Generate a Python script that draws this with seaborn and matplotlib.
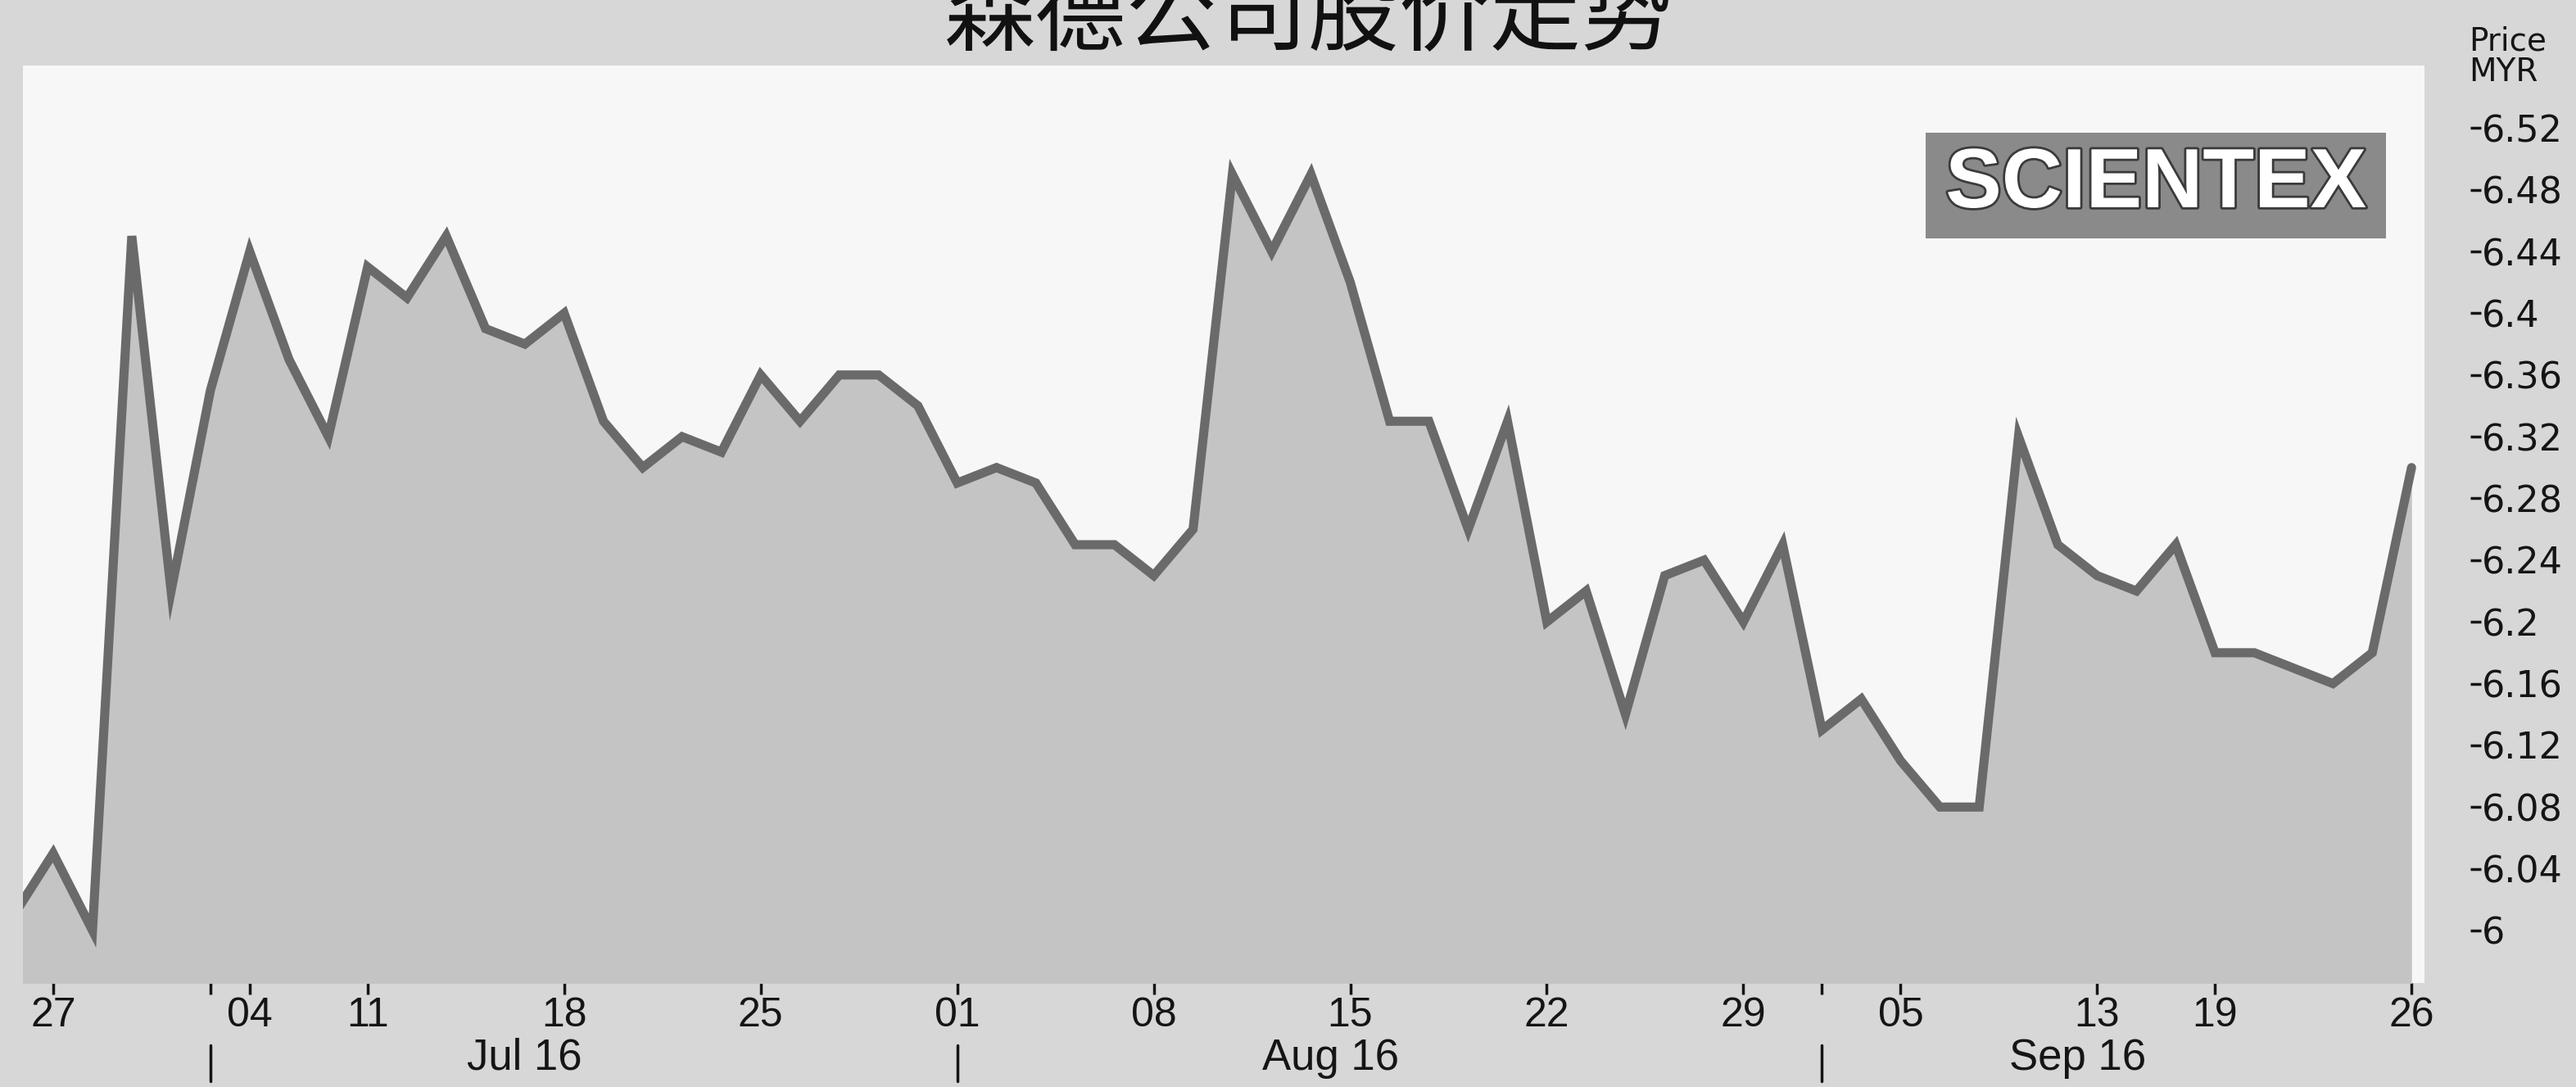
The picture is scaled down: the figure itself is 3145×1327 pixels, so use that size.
import numpy as np
import pandas as pd
import matplotlib
matplotlib.use("Agg")
import matplotlib.pyplot as plt
import matplotlib.patheffects as pe
from matplotlib.patches import Rectangle
from matplotlib.transforms import blended_transform_factory
import seaborn as sns

# trading days only (Raya / National Day / Malaysia Day holidays skipped)
dates = ["2016-06-24",
         "2016-06-27", "2016-06-28", "2016-06-29", "2016-06-30", "2016-07-01",
         "2016-07-04", "2016-07-05", "2016-07-08",
         "2016-07-11", "2016-07-12", "2016-07-13", "2016-07-14", "2016-07-15",
         "2016-07-18", "2016-07-19", "2016-07-20", "2016-07-21", "2016-07-22",
         "2016-07-25", "2016-07-26", "2016-07-27", "2016-07-28", "2016-07-29",
         "2016-08-01", "2016-08-02", "2016-08-03", "2016-08-04", "2016-08-05",
         "2016-08-08", "2016-08-09", "2016-08-10", "2016-08-11", "2016-08-12",
         "2016-08-15", "2016-08-16", "2016-08-17", "2016-08-18", "2016-08-19",
         "2016-08-22", "2016-08-23", "2016-08-24", "2016-08-25", "2016-08-26",
         "2016-08-29", "2016-08-30", "2016-09-01", "2016-09-02",
         "2016-09-05", "2016-09-06", "2016-09-07", "2016-09-08", "2016-09-09",
         "2016-09-13", "2016-09-14", "2016-09-15",
         "2016-09-19", "2016-09-20", "2016-09-21", "2016-09-22", "2016-09-23",
         "2016-09-26"]
prices = [6.01,
          6.05, 6.00, 6.45, 6.22, 6.35,
          6.44, 6.37, 6.32,
          6.43, 6.41, 6.45, 6.39, 6.38,
          6.40, 6.33, 6.30, 6.32, 6.31,
          6.36, 6.33, 6.36, 6.36, 6.34,
          6.29, 6.30, 6.29, 6.25, 6.25,
          6.23, 6.26, 6.49, 6.44, 6.49,
          6.42, 6.33, 6.33, 6.26, 6.33,
          6.20, 6.22, 6.14, 6.23, 6.24,
          6.20, 6.25, 6.13, 6.15,
          6.11, 6.08, 6.08, 6.32, 6.25,
          6.23, 6.22, 6.25,
          6.18, 6.18, 6.17, 6.16, 6.18,
          6.30]
y_ticks = [6.0, 6.04, 6.08, 6.12, 6.16, 6.2, 6.24, 6.28, 6.32, 6.36, 6.4, 6.44, 6.48, 6.52]
y_tick_labels = ["6", "6.04", "6.08", "6.12", "6.16", "6.2", "6.24", "6.28",
                 "6.32", "6.36", "6.4", "6.44", "6.48", "6.52"]
month_labels = ["Jul 16", "Aug 16", "Sep 16"]
title = "森德公司股价走势"
logo = "SCIENTEX"
unit_labels = ["Price", "MYR"]

paper = "#d7d7d7"
plot_bg = "#f7f7f7"
fill_col = "#c4c4c4"
line_col = "#6a6a6a"
ink = "#151515"

df = pd.DataFrame({"date": pd.to_datetime(dates), "price": prices})
df["pos"] = np.arange(len(df))

# first trading day of each week / month
week = df["date"].dt.isocalendar().week
new_week = (week != week.shift()) & (df.index > 0)
month = df["date"].dt.month
new_month = (month != month.shift()) & (df.index > 0)

sns.set_theme(style="white")
plt.rcParams['font.family'] = ['Liberation Sans', 'DejaVu Sans']

fig = plt.figure(figsize=(31.45, 13.27), dpi=100, facecolor=paper)
ax = fig.add_axes([0.0089, 0.0957, 0.9323, 0.844])
ax.set_facecolor(plot_bg)

ax.fill_between(df["pos"], df["price"], 5.9, color=fill_col, lw=0)
sns.lineplot(data=df, x="pos", y="price", ax=ax, color=line_col, lw=8,
             solid_joinstyle="miter")

ax.set_xlim(0.23, 61.33)
ax.set_ylim(5.966, 6.5605)
ax.set_xlabel("")
ax.set_ylabel("")
for sp in ax.spines.values():
    sp.set_visible(False)

# price scale on the right, ticks set off from the plot
ax.yaxis.tick_right()
ax.spines['right'].set_position(('outward', 40))
ax.set_yticks(y_ticks, y_tick_labels)
ax.tick_params(axis='y', which='major', right=True, length=9, width=2.5, pad=1,
               labelsize=32, colors=ink)
for lab in ax.get_yticklabels():
    lab.set_family(['DejaVu Sans'])

# day ticks
ax.set_xticks(df.loc[new_week, "pos"], df.loc[new_week, "date"].dt.strftime("%d"))
ax.set_xticks(df.loc[new_month, "pos"], minor=True)
ax.tick_params(axis='x', which='both', bottom=True, length=10, width=2.5, pad=2,
               labelsize=36, colors=ink)
for lab in ax.get_xticklabels():
    lab.set_family(['Liberation Sans Narrow', 'Liberation Sans'])

# month separators and month names under the day labels
trans = blended_transform_factory(ax.transData, ax.transAxes)
for p in df.loc[new_month, "pos"]:
    ax.plot([p, p], [-0.068, -0.107], color=ink, lw=2.5, transform=trans,
            clip_on=False)
in_months = df[df["pos"] >= df.loc[new_month, "pos"].min()]
month_pos = in_months.groupby(in_months["date"].dt.month)["pos"].mean() - 1
for lab, p in zip(month_labels, month_pos):
    ax.text(p, -0.082, lab, transform=trans, ha="center", va="center",
            fontsize=38, color=ink)

fig.text(0.9584, 0.962, unit_labels[0], fontsize=28, family=['DejaVu Sans'],
         ha="left", va="center", color=ink)
fig.text(0.9584, 0.934, unit_labels[1], fontsize=28, family=['DejaVu Sans'],
         ha="left", va="center", color=ink)

# logo box
fig.add_artist(Rectangle((0.7475, 0.7808), 0.1787, 0.0972, transform=fig.transFigure,
                         facecolor="#8a8a8a", edgecolor="none"))
fig.text(0.8369, 0.8293, logo, fontsize=74, fontweight="bold", color="white",
         ha="center", va="center",
         path_effects=[pe.withStroke(linewidth=4, foreground="#3a3a3a")])

fig.text(0.508, 0.960, title, fontsize=80, family=['Noto Sans CJK SC', 'DejaVu Sans'],
         fontweight="medium", ha="center", va="baseline", color="#111111")

plt.savefig("out.png", dpi=100, facecolor=paper)
